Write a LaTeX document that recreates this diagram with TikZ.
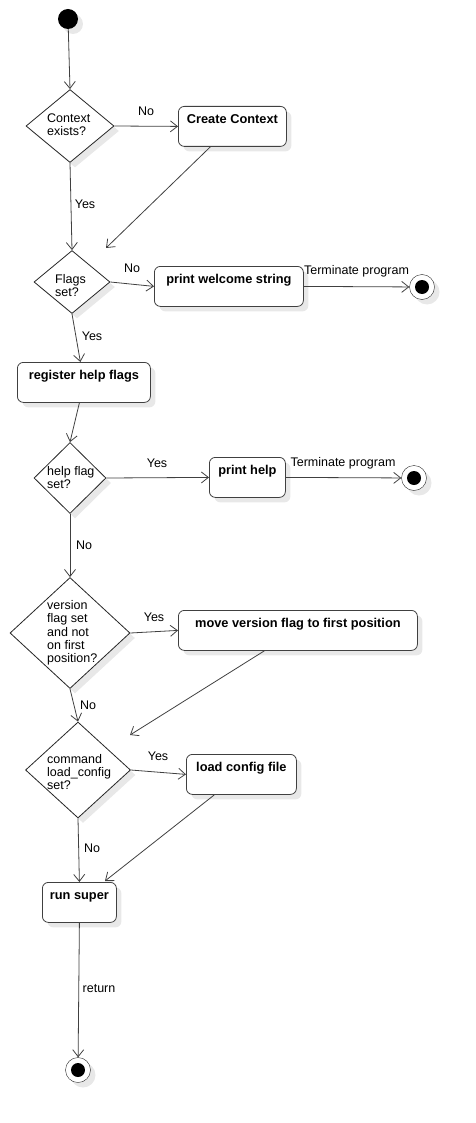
\documentclass[tikz,border=0pt]{standalone}
\usepackage{fontspec}
\setmainfont{Liberation Sans}
\usetikzlibrary{shapes.geometric,arrows.meta,shadows}
\begin{document}
\begin{tikzpicture}[x=1pt,y=-1pt,
  every node/.style={font=\fontsize{12.5}{13.3}\selectfont},
  shad/.style={drop shadow={shadow xshift=5pt,shadow yshift=-5pt,fill=black!9,opacity=1}},
  act/.style={draw=black!75,fill=white,rounded corners=6pt,inner sep=0pt,
    text height=17.5pt,text depth=22.5pt,minimum height=40pt,anchor=north west,
    font=\fontsize{12.8}{13.3}\selectfont\bfseries,shad,line width=0.8pt},
  dec/.style={diamond,draw=black!85,fill=white,inner sep=0pt,shad,line width=0.8pt},
  dtext/.style={anchor=west,align=left,inner sep=0pt},
  lab/.style={inner sep=0pt},
  startnode/.style={circle,fill=black,minimum size=20pt,inner sep=0pt,shad},
  finalnode/.style={circle,draw=black!85,fill=white,minimum size=25pt,inner sep=0pt,shad,
    path picture={\fill[black] (path picture bounding box.center) circle (7pt);}},
  flow/.style={draw=black!75,line width=0.8pt,-{Straight Barb[length=7pt,width=11pt]}}
]
\useasboundingbox (0,0) rectangle (475,1123);

% start
\node[startnode] (start) at (68,19) {};

% decisions
\node[dec,minimum width=88pt,minimum height=73pt] (d1) at (70,126) {};
\node[dtext] (t1) at (47,125) {Context\\exists?};
\node[dec,minimum width=76pt,minimum height=63pt] (d2) at (72,282) {};
\node[dtext] (t2) at (55,285.5) {Flags\\set?};
\node[dec,minimum width=72pt,minimum height=71pt] (d3) at (70,478) {};
\node[dtext] (t3) at (47,477.5) {help flag\\set?};
\node[dec,minimum width=120pt,minimum height=111pt] (d4) at (70,633) {};
\node[dtext] (t4) at (47,633) {version\\flag set\\and not\\on first\\position?};
\node[dec,minimum width=105pt,minimum height=96pt] (d5) at (78,770) {};
\node[dtext] (t5) at (47,772) {command\\load\_config\\set?};

% actions
\node[act,minimum width=108pt] (cc) at (178,106) {Create Context};
\node[act,minimum width=149pt] (pw) at (154,266) {print welcome string};
\node[act,minimum width=133pt] (rh) at (17,362) {register help flags};
\node[act,minimum width=76pt] (ph) at (209,457) {print help};
\node[act,minimum width=239pt] (mv) at (178,610) {move version flag to first position};
\node[act,minimum width=110pt] (lc) at (186,754) {load config file};
\node[act,minimum width=74pt] (rs) at (42,882) {run super};

% finals
\node[finalnode] (f1) at (422,287) {};
\node[finalnode] (f2) at (414,478) {};
\node[finalnode] (f3) at (78,1070) {};

% free ends
\coordinate (m1) at (106,248);
\coordinate (m2) at (130,735);
\coordinate (m3) at (105,881);

% connectors
\draw[flow] (start) -- (d1.north);
\draw[flow] (d1.east) -- (cc.west);
\draw[flow] ([xshift=-22pt]cc.south) -- (m1);
\draw[flow] (d1.south) -- (d2.north);
\draw[flow] (d2.east) -- (pw.west);
\draw[flow] (pw.east) -- (f1);
\draw[flow] (d2.south) -- ([xshift=-3.5pt]rh.north);
\draw[flow] ([xshift=-4.5pt]rh.south) -- (d3.north);
\draw[flow] (d3.east) -- (ph.west);
\draw[flow] (ph.east) -- (f2);
\draw[flow] (d3.south) -- (d4.north);
\draw[flow] (d4.east) -- (mv.west);
\draw[flow] ([xshift=-33.5pt]mv.south) -- (m2);
\draw[flow] (d4.south) -- (d5.north);
\draw[flow] (d5.east) -- (lc.west);
\draw[flow] ([xshift=-27pt]lc.south) -- (m3);
\draw[flow] (d5.south) -- (rs.north);
\draw[flow] (rs.south) -- (f3);

% labels
\node[lab] (l1) at (146,111) {No};
\node[lab] (l2) at (85,204) {Yes};
\node[lab] (l3) at (132,268) {No};
\node[lab] (l4) at (356.5,271) {Terminate program};
\node[lab] (l5) at (92,336) {Yes};
\node[lab] (l6) at (157,463) {Yes};
\node[lab] (l7) at (343,463) {Terminate program};
\node[lab] (l8) at (84,545) {No};
\node[lab] (l9) at (154,617) {Yes};
\node[lab] (l10) at (88,705) {No};
\node[lab] (l11) at (158,756) {Yes};
\node[lab] (l12) at (92,848) {No};
\node[lab] (l13) at (99,989) {return};
\end{tikzpicture}
\end{document}
